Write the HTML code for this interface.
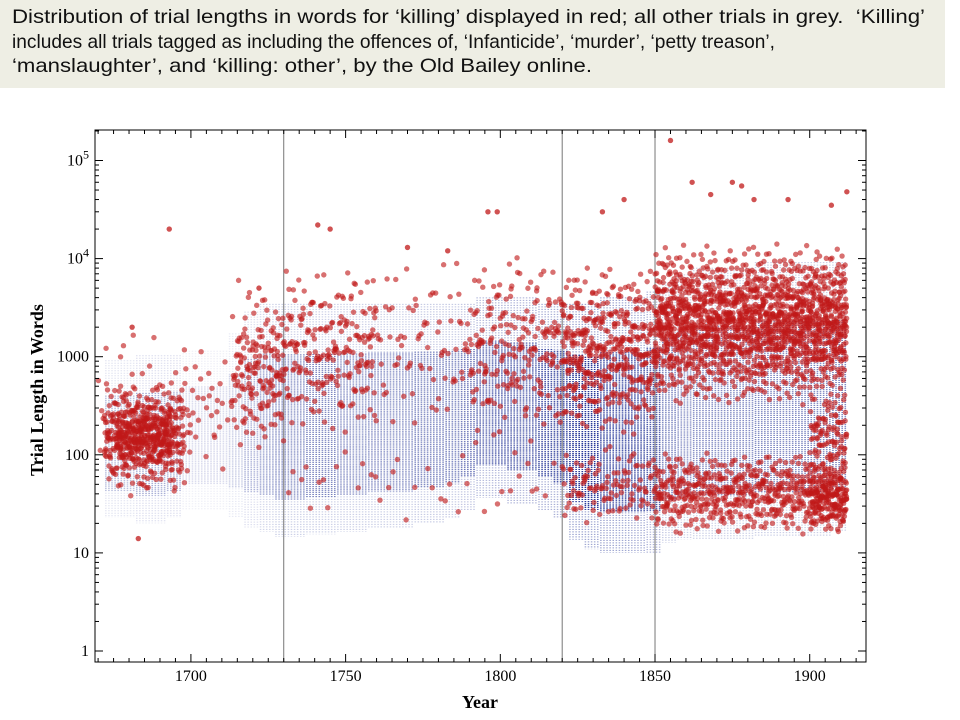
<!DOCTYPE html>
<html><head><meta charset="utf-8"><style>
body{margin:0;width:960px;height:720px;background:#fff;overflow:hidden;font-family:"Liberation Sans",sans-serif}
#banner{position:absolute;left:0;top:0;width:945px;height:88px;background:#eeeee4;font-size:19.5px;line-height:24.5px;color:#111}
#banner div{position:absolute;left:12px;white-space:nowrap;transform-origin:0 0}
svg{position:absolute;left:0;top:0}
</style></head><body>
<div id="banner">
<div style="top:5px" data-w="913">Distribution of trial lengths in words for ‘killing’ displayed in red; all other trials in grey.&nbsp; ‘Killing’</div>
<div style="top:29.5px" data-w="763">includes all trials tagged as including the offences of, ‘Infanticide’, ‘murder’, ‘petty treason’,</div>
<div style="top:54px" data-w="580">‘manslaughter’, and ‘killing: other’, by the Old Bailey online.</div>
</div>
<svg id="chart" width="960" height="720"></svg>
<script>
document.querySelectorAll('#banner div').forEach(d=>{d.style.transform='scaleX('+(+d.dataset.w/d.getBoundingClientRect().width)+')';});
// Blue (other trials) bands: year bin start, low words, high words, intensity
const blueYears=[1672,1677,1682,1687,1692,1697,1702,1707,1712,1717,1722,1727,1732,1737,1742,1747,1752,1757,1762,1767,1772,1777,1782,1787,1792,1797,1802,1807,1812,1817,1822,1827,1832,1837,1842,1847,1852,1857,1862,1867,1872,1877,1882,1887,1892,1897,1902,1907];
const blueLow=[25,25,22,22,25,30,30,30,25,20,18,16,16,17,17,18,18,20,20,20,22,22,25,30,40,40,35,35,30,25,15,12,11,11,11,11,14,15,15,15,15,15,16,16,16,16,16,18];
const blueHigh=[800,800,900,900,900,1000,1000,1000,1500,2500,3000,3000,3000,3000,3000,3000,3000,3000,3000,3000,3000,3000,3000,3000,3500,3500,3500,3500,3000,3000,3000,3000,3500,3500,3500,4000,5000,6000,7000,7000,7000,7000,8000,8000,8000,8000,8000,8000];
const blueInt=[0.25,0.25,0.3,0.3,0.3,0.15,0.15,0.15,0.2,0.3,0.4,0.45,0.45,0.45,0.45,0.45,0.45,0.45,0.45,0.45,0.5,0.5,0.5,0.55,0.65,0.7,0.7,0.7,0.75,0.8,0.85,0.85,0.85,0.85,0.8,0.7,0.5,0.45,0.45,0.45,0.45,0.45,0.45,0.45,0.45,0.45,0.45,0.45];
// Red (killing) clusters: year start, year end, low, high, dots
const redY0=[1672,1676,1670,1698,1713,1715,1730,1730,1760,1790,1820,1820,1850,1850,1850,1900,1900];
const redY1=[1698,1694,1700,1712,1730,1730,1760,1820,1820,1820,1850,1850,1912,1912,1912,1912,1912];
const redLo=[40,70,25,60,100,250,150,18,150,120,150,18,300,15,600,60,16];
const redHi=[600,350,2500,1500,3000,7000,9000,150,12000,12000,9000,130,15000,110,9000,450,80];
const redN=[320,240,60,30,120,50,220,40,150,130,420,110,1300,600,450,90,130];
// Red outliers
const outYear=[1693,1855,1862,1875,1878,1840,1741,1796,1799,1912,1681,1683,1745,1868,1882,1893,1770,1783,1833,1907,1722];
const outVal=[20000,160000,60000,60000,55000,40000,22000,30000,30000,48000,2000,14,20000,45000,40000,40000,13000,12000,30000,35000,5000];

const svg=document.getElementById('chart');
const NS='http://www.w3.org/2000/svg';
const L=95,R=866,T=130,B=662;
const xs=y=>95+(y-1669)*3.094;
const ys=v=>651-Math.log10(v)*98.1;
function mk(t,a,p){const e=document.createElementNS(NS,t);for(const k in a)e.setAttribute(k,a[k]);(p||svg).appendChild(e);return e;}
function halton(i,b){let f=1,r=0;while(i>0){f/=b;r+=f*(i%b);i=Math.floor(i/b);}return r;}
const clip=mk('clipPath',{id:'pc'});mk('rect',{x:L,y:T,width:R-L,height:B-T},clip);
const gB=mk('g',{'clip-path':'url(#pc)'});


blueYears.forEach((y0,i)=>{
  const lo=Math.log10(blueLow[i]),hi=Math.log10(blueHigh[i]);
  for(let y=y0;y<y0+5;y++){
    const x=xs(y+0.5);
    const l=mk('line',{x1:x,x2:x,y1:ys(blueHigh[i])-6,y2:ys(blueLow[i])+4,stroke:'#2a3a9a','stroke-width':1.5,'stroke-dasharray':'1 1.5','stroke-opacity':blueInt[i]*0.6},gB);
    
    
    const a=Math.pow(10,lo+(hi-lo)*0.15),b=Math.pow(10,lo+(hi-lo)*0.8);
    const l2=mk('line',{x1:x,x2:x,y1:ys(b),y2:ys(a),stroke:'#2a3a9a','stroke-width':1.6,'stroke-dasharray':'1 1','stroke-opacity':Math.min(1,blueInt[i]*1.2)},gB);
    
    
  }
});
[1730,1820,1850].forEach(y=>{const l=mk('line',{x1:xs(y),x2:xs(y),y1:T,y2:B,stroke:'#777','stroke-width':1});

});
const gR=mk('g',{'clip-path':'url(#pc)'});


redY0.forEach((a,i)=>{
  const b=redY1[i],lo=Math.log10(redLo[i]),hi=Math.log10(redHi[i]);
  for(let k=0;k<redN[i];k++){
    const n=k+1+i*37;
    const u=halton(n,2),w=(halton(n,3)+halton(n,5))/2;
    const yr=a+u*(b-a),v=Math.pow(10,lo+w*(hi-lo));
    const c=mk('circle',{cx:xs(yr),cy:ys(v),r:2.7,fill:'#c01818','fill-opacity':0.62},gR);
    
    
  }
});
outYear.forEach((y,i)=>{const c=mk('circle',{cx:xs(y),cy:ys(outVal[i]),r:2.7,fill:'#c01818','fill-opacity':0.75},gR);

});
const fr=mk('rect',{x:L,y:T,width:R-L,height:B-T,fill:'none',stroke:'#000','stroke-width':1});


for(let y=1670;y<=1915;y+=5){const maj=y%50===0,len=maj?8:4;
 mk('line',{x1:xs(y),x2:xs(y),y1:B,y2:B-len,stroke:'#000'});
 mk('line',{x1:xs(y),x2:xs(y),y1:T,y2:T+len,stroke:'#000'});
 if(maj){const t=mk('text',{x:xs(y),y:B+19,'text-anchor':'middle','font-family':'Liberation Serif, serif','font-size':16});t.textContent=y;
 
 }}
const yLab=['1','10','100','1000','10^4','10^5'];
for(let d=0;d<=5;d++){for(let m=1;m<10;m++){const v=m*Math.pow(10,d);const yy=ys(v);if(yy<T)continue;const len=m===1?8:4;
 mk('line',{x1:L,x2:L+len,y1:yy,y2:yy,stroke:'#000'});mk('line',{x1:R,x2:R-len,y1:yy,y2:yy,stroke:'#000'});}
 const t=mk('text',{x:L-6,y:ys(Math.pow(10,d))+5,'text-anchor':'end','font-family':'Liberation Serif, serif','font-size':16});
 const s=yLab[d];
 if(s.includes('^')){const [b,e]=s.split('^');t.textContent=b;const ts=mk('tspan',{dy:-7,'font-size':12},t);ts.textContent=e;}else t.textContent=s;
 
 }
const xt=mk('text',{x:480,y:708,'text-anchor':'middle','font-family':'Liberation Serif, serif','font-size':18,'font-weight':'bold'});xt.textContent='Year';


const yt=mk('text',{x:0,y:0,transform:'translate(43,390) rotate(-90)','text-anchor':'middle','font-family':'Liberation Serif, serif','font-size':18,'font-weight':'bold'});yt.textContent='Trial Length in Words';


</script>
</body></html>
